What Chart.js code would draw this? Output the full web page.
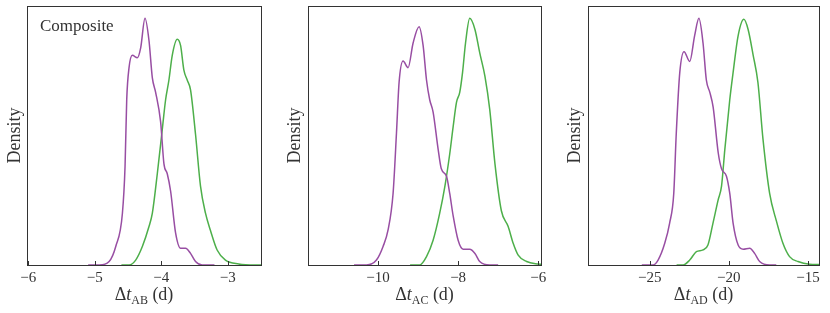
<!DOCTYPE html>
<html>
<head>
<meta charset="utf-8">
<script src="https://cdn.jsdelivr.net/npm/chart.js@4"></script>
<style>
  body { margin: 0; background: #fff; }
  .panel { position: absolute; top: 0; }
</style>
</head>
<body>
<canvas id="cAB" class="panel" width="275" height="313" style="left:0px"></canvas>
<canvas id="cAC" class="panel" width="275" height="313" style="left:280px"></canvas>
<canvas id="cAD" class="panel" width="270" height="313" style="left:560px"></canvas>
<script>
// delay values (density normalised to the tallest peak)
const abTicks = [-6, -5, -4, -3];
const acTicks = [-10, -8, -6];
const adTicks = [-25, -20, -15];

const abPurpleX = [-5.1, -4.93, -4.785, -4.685, -4.585, -4.545, -4.52, -4.485, -4.435, -4.36, -4.31, -4.245, -4.185, -4.135, -4.085, -4.01, -3.96, -3.91, -3.86, -3.785, -3.71, -3.635, -3.56, -3.485, -3.385, -3.2];
const abPurpleY = [0, 0, 0.014, 0.075, 0.209, 0.40, 0.67, 0.80, 0.85, 0.84, 0.88, 1.0, 0.91, 0.76, 0.70, 0.58, 0.41, 0.37, 0.30, 0.13, 0.068, 0.068, 0.047, 0.014, 0, 0];
const abGreenX = [-4.6, -4.485, -4.385, -4.285, -4.185, -4.135, -4.06, -3.985, -3.935, -3.885, -3.835, -3.76, -3.71, -3.66, -3.61, -3.56, -3.485, -3.41, -3.335, -3.26, -3.16, -3.035, -2.835, -2.585, -2.5];
const abGreenY = [0, 0, 0.02, 0.075, 0.156, 0.209, 0.37, 0.55, 0.67, 0.75, 0.85, 0.915, 0.89, 0.79, 0.75, 0.71, 0.53, 0.32, 0.21, 0.14, 0.061, 0.02, 0.004, 0, 0];

const acPurpleX = [-10.6, -10.29, -10.04, -9.875, -9.75, -9.625, -9.54, -9.475, -9.375, -9.25, -9.125, -8.975, -8.875, -8.79, -8.71, -8.625, -8.5, -8.42, -8.29, -8.21, -8.125, -8.0, -7.875, -7.71, -7.58, -7.46, -7.21, -7.0];
const acPurpleY = [0, 0, 0.02, 0.075, 0.142, 0.29, 0.535, 0.74, 0.827, 0.80, 0.90, 0.966, 0.89, 0.75, 0.67, 0.62, 0.47, 0.39, 0.36, 0.29, 0.20, 0.10, 0.064, 0.064, 0.047, 0.014, 0, 0];
const acGreenX = [-9.2, -8.96, -8.79, -8.625, -8.46, -8.33, -8.21, -8.125, -8.04, -7.96, -7.89, -7.815, -7.71, -7.58, -7.46, -7.33, -7.21, -7.08, -6.92, -6.75, -6.625, -6.5, -6.29, -6.0, -5.93];
const acGreenY = [0, 0, 0.034, 0.10, 0.21, 0.32, 0.45, 0.56, 0.66, 0.70, 0.78, 0.90, 1.0, 0.955, 0.86, 0.765, 0.63, 0.41, 0.22, 0.156, 0.088, 0.04, 0.014, 0.004, 0.003];

const adPurpleX = [-25.5, -24.79, -24.47, -24.05, -23.74, -23.48, -23.32, -23.1, -22.83, -22.47, -22.16, -21.89, -21.63, -21.42, -21.2, -20.99, -20.67, -20.46, -20.15, -19.94, -19.73, -19.41, -19.09, -18.68, -18.37, -18.05, -17.42, -17.0];
const adPurpleY = [0, 0, 0.02, 0.088, 0.17, 0.29, 0.535, 0.78, 0.865, 0.825, 0.93, 1.0, 0.90, 0.75, 0.70, 0.64, 0.455, 0.39, 0.36, 0.29, 0.17, 0.081, 0.064, 0.068, 0.047, 0.014, 0, 0];
const adGreenX = [-23.3, -22.89, -22.47, -22.05, -21.63, -21.32, -21.0, -20.67, -20.46, -20.25, -19.94, -19.73, -19.41, -19.05, -18.78, -18.46, -18.16, -17.84, -17.42, -17.0, -16.58, -16.16, -15.63, -14.89, -14.3];
const adGreenY = [0, 0, 0.02, 0.054, 0.061, 0.081, 0.17, 0.265, 0.32, 0.47, 0.67, 0.78, 0.93, 0.996, 0.955, 0.85, 0.74, 0.51, 0.29, 0.18, 0.088, 0.034, 0.014, 0.003, 0.002];

const PURPLE = "#984ea3";
const GREEN = "#4daf4a";
const INK = "#333333";
const SERIF = "'Liberation Serif', 'DejaVu Serif', serif";

const pts = (xs, ys) => xs.map((x, i) => ({ x, y: ys[i] }));
const minus = (v) => v < 0 ? "\u2212" + Math.abs(v) : String(v);

// frame, inward ticks, subscripted x label, panel tag
const framePlugin = {
  id: "frame",
  afterDraw(chart, args, opts) {
    const { ctx, chartArea: a, scales: { x } } = chart;
    ctx.save();
    ctx.strokeStyle = "#333"; ctx.lineWidth = 1;
    ctx.strokeRect(a.left + 0.5, a.top + 0.5, a.right - a.left, a.bottom - a.top);
    x.ticks.forEach(t => {
      const px = Math.round(x.getPixelForValue(t.value)) + 0.5;
      ctx.beginPath(); ctx.moveTo(px, a.bottom); ctx.lineTo(px, a.bottom - 4); ctx.stroke();
    });

    const parts = [
      { t: "\u0394", f: `18px ${SERIF}`, dy: 0 },
      { t: "t", f: `italic 18px ${SERIF}`, dy: 0 },
      { t: opts.sub, f: `12px ${SERIF}`, dy: 4 },
      { t: " (d)", f: `18px ${SERIF}`, dy: 0 }
    ];
    let total = 0;
    parts.forEach(p => { ctx.font = p.f; p.w = ctx.measureText(p.t).width; total += p.w; });
    let cx = (a.left + a.right) / 2 - total / 2;
    ctx.fillStyle = INK; ctx.textBaseline = "alphabetic"; ctx.textAlign = "left";
    parts.forEach(p => { ctx.font = p.f; ctx.fillText(p.t, cx, 300 + p.dy); cx += p.w; });

    if (opts.tag) {
      ctx.font = `17px ${SERIF}`;
      ctx.fillText(opts.tag, a.left + 13, 31);
    }
    ctx.restore();
  }
};

function makePanel(id, xMin, xMax, ticks, purple, green, sub, tag, yWidth, padRight) {
  new Chart(document.getElementById(id), {
    type: "line",
    data: {
      datasets: [
        { data: purple, borderColor: PURPLE },
        { data: green, borderColor: GREEN }
      ]
    },
    options: {
      responsive: false,
      devicePixelRatio: 1,
      animation: false,
      layout: { padding: { top: 6, right: padRight, bottom: 0, left: 0 } },
      elements: {
        point: { radius: 0 },
        line: { borderWidth: 1.5, cubicInterpolationMode: "monotone", fill: false }
      },
      plugins: {
        legend: { display: false },
        tooltip: { enabled: false },
        frame: { sub, tag }
      },
      scales: {
        x: {
          type: "linear", min: xMin, max: xMax,
          afterBuildTicks: (s) => { s.ticks = ticks.map(v => ({ value: v })); },
          afterFit: (s) => { s.height = 48; },
          grid: { display: false, drawTicks: false },
          border: { display: false },
          ticks: { autoSkip: false, maxRotation: 0, padding: 4, color: INK,
                   font: { family: SERIF, size: 15 }, callback: (v) => minus(v) }
        },
        y: {
          min: 0, max: 1.05,
          afterFit: (s) => { s.width = yWidth; },
          grid: { display: false, drawTicks: false },
          border: { display: false },
          ticks: { display: false },
          title: { display: true, text: "Density", color: INK,
                   font: { family: SERIF, size: 18 }, padding: { top: 4, bottom: 0 } }
        }
      }
    },
    plugins: [framePlugin]
  });
}

makePanel("cAB", -6.02, -2.5, abTicks, pts(abPurpleX, abPurpleY), pts(abGreenX, abGreenY), "AB", "Composite", 27, 14);
makePanel("cAC", -11.75, -5.93, acTicks, pts(acPurpleX, acPurpleY), pts(acGreenX, acGreenY), "AC", "", 28, 14);
makePanel("cAD", -28.9, -14.3, adTicks, pts(adPurpleX, adPurpleY), pts(adGreenX, adGreenY), "AD", "", 28, 11);
</script>
</body>
</html>
